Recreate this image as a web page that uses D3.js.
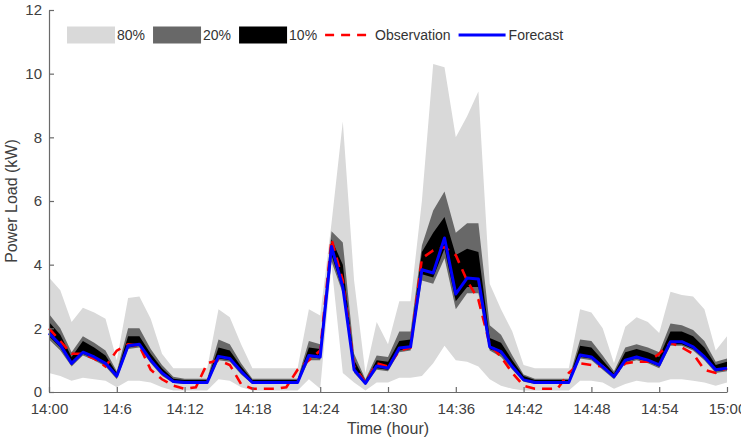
<!DOCTYPE html>
<html>
<head>
<meta charset="utf-8">
<script src="https://cdn.jsdelivr.net/npm/d3@7.9.0/dist/d3.min.js"></script>
<style>
  html, body { margin: 0; padding: 0; background: #fff; }
  svg { display: block; font-family: "Liberation Sans", Arial, Helvetica, sans-serif; }
  .axis text { fill: #404040; font-size: 15px; }
  .axis path, .axis line { stroke: #6a6a6a; stroke-width: 1.2; }
</style>
</head>
<body>
<svg id="chart" width="741" height="438"></svg>
<script>
// minutes after 14:00, one sample per minute
const minutes = d3.range(0, 61);
const tickMinutes = [0, 6, 12, 18, 24, 30, 36, 42, 48, 54, 60];
const tickLabels = ['14:00', '14:6', '14:12', '14:18', '14:24', '14:30', '14:36', '14:42', '14:48', '14:54', '15:00'];
const yTicks = [0, 2, 4, 6, 8, 10, 12];

const forecast = [1.85,1.48,0.9,1.25,1.1,0.9,0.5,1.45,1.5,1.0,0.6,
  0.33,0.3,0.3,0.3,1.12,1.05,0.65,0.3,0.3,0.3,
  0.3,0.3,1.15,1.1,4.57,3.3,0.7,0.27,0.82,0.75,
  1.38,1.42,3.84,3.74,4.84,3.08,3.58,3.55,1.42,1.27,
  0.8,0.38,0.3,0.3,0.3,0.3,1.16,1.1,0.8,0.48,
  1.0,1.1,1.0,0.85,1.58,1.58,1.42,1.1,0.7,0.75];

const observation = [2.0,1.6,1.2,1.2,1.05,0.8,1.3,1.5,1.45,0.7,0.4,
  0.2,0.1,0.15,0.9,1.0,0.85,0.25,0.1,0.1,0.1,
  0.15,0.7,1.0,1.3,4.8,3.5,0.8,0.3,0.9,0.8,
  1.3,1.4,4.2,4.45,4.55,4.3,3.5,2.9,1.5,1.1,
  0.6,0.2,0.1,0.1,0.1,0.6,0.9,0.85,0.8,0.5,
  0.9,0.95,0.95,1.2,1.55,1.4,1.2,0.7,0.6,0.75];

// 80% interval
const lo80 = [0.6,0.5,0.35,0.45,0.4,0.35,0.15,0.35,0.35,0.3,0.15,
  0.05,0.05,0.05,0.05,0.4,0.35,0.15,0.05,0.05,0.05,
  0.05,0.05,0.4,0.1,4.0,0.6,0.3,0.05,0.3,0.3,
  0.45,0.45,0.5,0.9,1.45,1.0,0.95,0.8,0.4,0.2,
  0.1,0.05,0.05,0.05,0.05,0.05,0.35,0.35,0.3,0.1,
  0.25,0.35,0.3,0.3,0.4,0.4,0.35,0.3,0.2,0.3];
const hi80 = [3.6,3.2,2.2,2.65,2.5,2.3,1.0,2.95,3.0,2.3,1.2,
  0.75,0.75,0.75,0.75,2.6,2.35,1.5,0.75,0.75,0.75,
  0.75,0.75,2.6,2.4,5.3,8.5,3.5,0.6,2.2,1.5,
  2.85,2.85,6.0,10.3,10.2,8.0,8.66,9.44,3.4,2.6,
  1.9,0.85,0.75,0.75,0.75,0.75,2.6,2.5,2.0,0.9,
  2.05,2.35,2.2,1.85,3.15,3.05,3.0,2.6,1.3,1.75];

// 20% interval
const lo20 = [1.65,1.3,0.8,1.15,1.0,0.8,0.4,1.35,1.4,0.9,0.5,
  0.28,0.25,0.25,0.25,1.0,0.95,0.55,0.25,0.25,0.25,
  0.25,0.25,1.0,1.0,4.1,3.1,0.6,0.22,0.7,0.65,
  1.25,1.3,3.5,3.4,4.2,2.6,3.1,3.1,1.3,1.1,
  0.7,0.32,0.25,0.25,0.25,0.25,1.05,1.0,0.7,0.4,
  0.9,1.0,0.9,0.75,1.45,1.45,1.3,1.0,0.6,0.65];
const hi20 = [2.45,2.0,1.25,1.75,1.55,1.3,0.65,2.0,2.0,1.35,0.85,
  0.48,0.42,0.42,0.42,1.65,1.5,0.9,0.42,0.42,0.42,
  0.42,0.42,1.6,1.5,5.05,4.7,1.2,0.4,1.15,1.1,
  1.9,1.9,4.6,5.7,6.3,5.0,5.3,5.3,2.1,1.8,
  1.15,0.55,0.42,0.42,0.42,0.42,1.65,1.6,1.15,0.65,
  1.4,1.5,1.4,1.25,2.15,2.1,1.95,1.6,0.95,1.05];

// 10% interval
const lo10 = [1.75,1.4,0.85,1.2,1.05,0.85,0.45,1.4,1.45,0.95,0.55,
  0.3,0.27,0.27,0.27,1.05,1.0,0.6,0.27,0.27,0.27,
  0.27,0.27,1.1,1.05,4.3,3.2,0.65,0.25,0.75,0.7,
  1.3,1.35,3.7,3.6,4.5,2.85,3.3,3.3,1.35,1.2,
  0.75,0.35,0.27,0.27,0.27,0.27,1.1,1.05,0.75,0.45,
  0.95,1.05,0.95,0.8,1.5,1.5,1.35,1.05,0.65,0.7];
const hi10 = [2.2,1.8,1.1,1.6,1.4,1.15,0.6,1.75,1.75,1.2,0.75,
  0.42,0.38,0.38,0.38,1.4,1.3,0.8,0.38,0.38,0.38,
  0.38,0.38,1.4,1.35,4.8,4.0,1.0,0.35,1.0,0.95,
  1.6,1.65,4.4,5.0,5.5,4.3,4.5,4.4,1.7,1.55,
  1.0,0.5,0.38,0.38,0.38,0.38,1.45,1.4,1.0,0.58,
  1.25,1.35,1.25,1.1,1.9,1.9,1.75,1.4,0.85,0.95];

const svg = d3.select('#chart');
const margin = { left: 49, right: 14, top: 10, bottom: 46 };
const W = 741, H = 438;

const x = d3.scaleLinear().domain([0, 60]).range([margin.left, W - margin.right]);
const y = d3.scaleLinear().domain([0, 12]).range([H - margin.bottom, margin.top]);

const bands = [
  { lo: lo80, hi: hi80, color: '#d9d9d9' },
  { lo: lo20, hi: hi20, color: '#686868' },
  { lo: lo10, hi: hi10, color: '#000000' }
];

const area = (lo, hi) => d3.area()
  .x(i => x(minutes[i]))
  .y0(i => y(lo[i]))
  .y1(i => y(hi[i]));

const idx = d3.range(minutes.length);
bands.forEach(b => {
  svg.append('path')
    .attr('d', area(b.lo, b.hi)(idx))
    .attr('fill', b.color);
});

const line = vals => d3.line()
  .x(i => x(minutes[i]))
  .y(i => y(vals[i]))(idx);

svg.append('path')
  .attr('d', line(observation))
  .attr('fill', 'none')
  .attr('stroke', '#ff0000')
  .attr('stroke-width', 2.6)
  .attr('stroke-dasharray', '10,7');

svg.append('path')
  .attr('d', line(forecast))
  .attr('fill', 'none')
  .attr('stroke', '#0000ff')
  .attr('stroke-width', 3)
  .attr('stroke-linejoin', 'round');

// axes (ticks point inward, MATLAB style)
svg.append('g')
  .attr('class', 'axis')
  .attr('transform', `translate(0,${y(0)})`)
  .call(d3.axisBottom(x)
    .tickValues(tickMinutes)
    .tickFormat((d, i) => tickLabels[i])
    .tickSizeInner(-5).tickSizeOuter(0).tickPadding(11));

svg.append('g')
  .attr('class', 'axis')
  .attr('transform', `translate(${x(0)},0)`)
  .call(d3.axisLeft(y)
    .tickValues(yTicks)
    .tickSizeInner(-5).tickSizeOuter(0).tickPadding(7));

svg.append('text')
  .attr('x', (x(0) + x(60)) / 2)
  .attr('y', 434)
  .attr('text-anchor', 'middle')
  .attr('fill', '#404040')
  .attr('font-size', 16)
  .text('Time (hour)');

svg.append('text')
  .attr('transform', `translate(17,${(y(0) + y(12)) / 2}) rotate(-90)`)
  .attr('text-anchor', 'middle')
  .attr('fill', '#404040')
  .attr('font-size', 16)
  .text('Power Load (kW)');

// legend
const legendItems = [
  { label: '80%', type: 'rect', color: '#d9d9d9' },
  { label: '20%', type: 'rect', color: '#686868' },
  { label: '10%', type: 'rect', color: '#000000' },
  { label: 'Observation', type: 'dash', color: '#ff0000' },
  { label: 'Forecast', type: 'line', color: '#0000ff' }
];
const legend = svg.append('g').attr('font-size', 14).attr('fill', '#333');
let lx = 67;
const ly = 35;
legendItems.forEach(d => {
  if (d.type === 'rect') {
    legend.append('rect')
      .attr('x', lx).attr('y', ly - 8.5)
      .attr('width', 48).attr('height', 17)
      .attr('fill', d.color);
  } else {
    legend.append('line')
      .attr('x1', lx).attr('x2', lx + 47)
      .attr('y1', ly).attr('y2', ly)
      .attr('stroke', d.color)
      .attr('stroke-width', d.type === 'dash' ? 2.6 : 3)
      .attr('stroke-dasharray', d.type === 'dash' ? '9,7' : null);
  }
  const t = legend.append('text')
    .attr('x', lx + 50).attr('y', ly)
    .attr('dy', '0.35em')
    .text(d.label);
  lx += 50 + t.node().getComputedTextLength() + 8;
});
</script>
</body>
</html>
